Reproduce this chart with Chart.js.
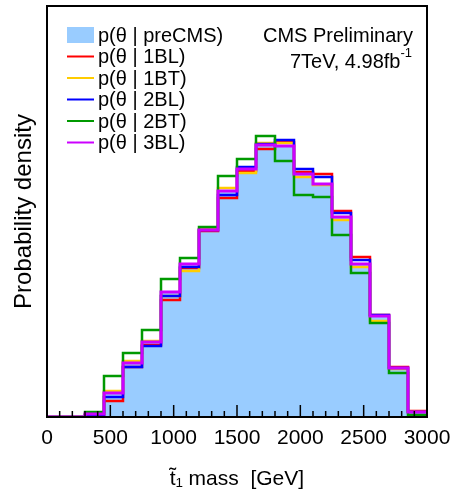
<!DOCTYPE html>
<html>
<head>
<meta charset="utf-8">
<script src="https://cdn.jsdelivr.net/npm/chart.js@4.4.1/dist/chart.umd.min.js"></script>
<style>
  html, body { margin: 0; padding: 0; background: #fff; }
  #wrap { width: 450px; height: 495px; }
</style>
</head>
<body>
<div id="wrap"><canvas id="chart" width="450" height="495"></canvas></div>
<script>
// bin edges of the stop mass histogram (GeV)
const EDGES = [0, 150, 300, 450, 600, 750, 900, 1050, 1200, 1350, 1500, 1650, 1800, 1950, 2100, 2250, 2400, 2550, 2700, 2850, 3000];
const X_LABELS = [0, 500, 1000, 1500, 2000, 2500, 3000];

// bin contents, arbitrary density units (one per bin)
const preCMS = [0, 0, 3, 24, 54, 75, 125, 153, 187, 226, 248, 271, 271, 242, 231, 200, 153, 101, 49, 5];
const bl1    = [0, 0, 2, 16, 50, 72, 117, 149, 186, 219, 246, 268, 275, 245, 243, 206, 160, 102, 50, 6];
const bt1    = [0, 0, 3, 26, 56, 76, 121, 146, 188, 229, 244, 274, 274, 240, 232, 197, 150, 96, 48, 5];
const bl2    = [0, 0, 2, 20, 50, 71, 121, 150, 187, 222, 250, 273, 277, 248, 240, 204, 157, 102, 49, 5];
const bt2    = [0, 0, 5, 41, 64, 87, 138, 159, 190, 241, 258, 281, 256, 222, 220, 182, 144, 94, 44, 2];
const bl3    = [0, 0, 3, 24, 54, 75, 125, 153, 187, 226, 248, 272, 271, 243, 233, 200, 153, 101, 49, 5];

const FONT = "'Liberation Sans', Arial, Helvetica, sans-serif";
Chart.defaults.font.family = FONT;
Chart.defaults.color = '#000';

// left edge points + closing point at the last edge
function histPoints(vals) {
  return EDGES.map((e, i) => ({ x: e, y: vals[Math.min(i, vals.length - 1)] }));
}

function line(label, vals, color, width, order) {
  return {
    label, data: histPoints(vals), borderColor: color, backgroundColor: color,
    borderWidth: width, stepped: true, pointRadius: 0, fill: false, order,
  };
}

const datasets = [
  { label: 'p(θ | preCMS)', data: histPoints(preCMS), stepped: true, pointRadius: 0,
    borderWidth: 0, borderColor: 'rgba(0,0,0,0)', backgroundColor: '#99ccff', fill: 'origin', order: 9 },
  line('p(θ | 1BL)', bl1, '#ff0000', 2.5, 5),
  line('p(θ | 1BT)', bt1, '#ffcc00', 2.5, 4),
  line('p(θ | 2BL)', bl2, '#0000ff', 2.5, 3),
  line('p(θ | 2BT)', bt2, '#009900', 2.5, 2),
  line('p(θ | 3BL)', bl3, '#cc00ff', 3, 1),
];

const framePlugin = {
  id: 'frame',
  afterDatasetsDraw(chart) {
    const { ctx, chartArea: a, scales: { x } } = chart;
    ctx.save();
    // inward ticks on the bottom axis
    ctx.strokeStyle = '#000';
    ctx.lineWidth = 1.5;
    for (let v = 0; v <= 3000; v += 100) {
      const px = x.getPixelForValue(v);
      const len = X_LABELS.includes(v) ? 12 : 6;
      ctx.beginPath();
      ctx.moveTo(px, a.bottom);
      ctx.lineTo(px, a.bottom - len);
      ctx.stroke();
    }
    ctx.lineWidth = 2;
    ctx.strokeRect(a.left, a.top, a.right - a.left, a.bottom - a.top);

    // legend
    ctx.font = '20px ' + FONT;
    ctx.textBaseline = 'middle';
    ctx.textAlign = 'left';
    chart.data.datasets.forEach((ds, i) => {
      const cy = 35 + i * 21.5;
      if (i === 0) {
        ctx.fillStyle = ds.backgroundColor;
        ctx.fillRect(67, cy - 8, 27, 16);
      } else {
        ctx.strokeStyle = ds.borderColor;
        ctx.lineWidth = 2;
        ctx.beginPath();
        ctx.moveTo(67, cy);
        ctx.lineTo(94, cy);
        ctx.stroke();
      }
      ctx.fillStyle = '#000';
      ctx.fillText(ds.label, 98, cy + 1);
    });

    // CMS label
    ctx.textAlign = 'right';
    ctx.fillText('CMS Preliminary', 413, 36);
    ctx.font = '13px ' + FONT;
    const sup = '-1';
    const supW = ctx.measureText(sup).width;
    ctx.fillText(sup, 412, 53);
    ctx.font = '20px ' + FONT;
    ctx.fillText('7TeV, 4.98fb', 412 - supW, 62);
    ctx.restore();
  },
};

new Chart(document.getElementById('chart'), {
  type: 'line',
  data: { datasets },
  plugins: [framePlugin],
  options: {
    responsive: false,
    animation: false,
    layout: { padding: { top: 6, right: 23, left: 0, bottom: 0 } },
    plugins: { legend: { display: false }, tooltip: { enabled: false } },
    scales: {
      x: {
        type: 'linear', min: 0, max: 3000,
        grid: { display: false, drawTicks: false },
        border: { display: false },
        ticks: {
          stepSize: 500, autoSkip: false, maxRotation: 0, padding: 9,
          font: { size: 21 }, color: '#000',
          callback: v => X_LABELS.includes(v) ? String(v) : '',
        },
        title: { display: true, text: 't̃₁ mass  [GeV]', font: { size: 21 }, color: '#000', padding: { top: 0, bottom: 3 } },
        afterFit: s => { s.height = 78; s.paddingLeft = 0; s.paddingRight = 0; },
      },
      y: {
        min: 0, max: 411,
        grid: { display: false, drawTicks: false },
        border: { display: false },
        ticks: { display: false },
        title: { display: true, text: 'Probability density', font: { size: 24 }, color: '#000', padding: { top: 10, bottom: 0 } },
        afterFit: s => { s.width = 47; s.paddingTop = 0; s.paddingBottom = 0; },
      },
    },
  },
});
</script>
</body>
</html>
